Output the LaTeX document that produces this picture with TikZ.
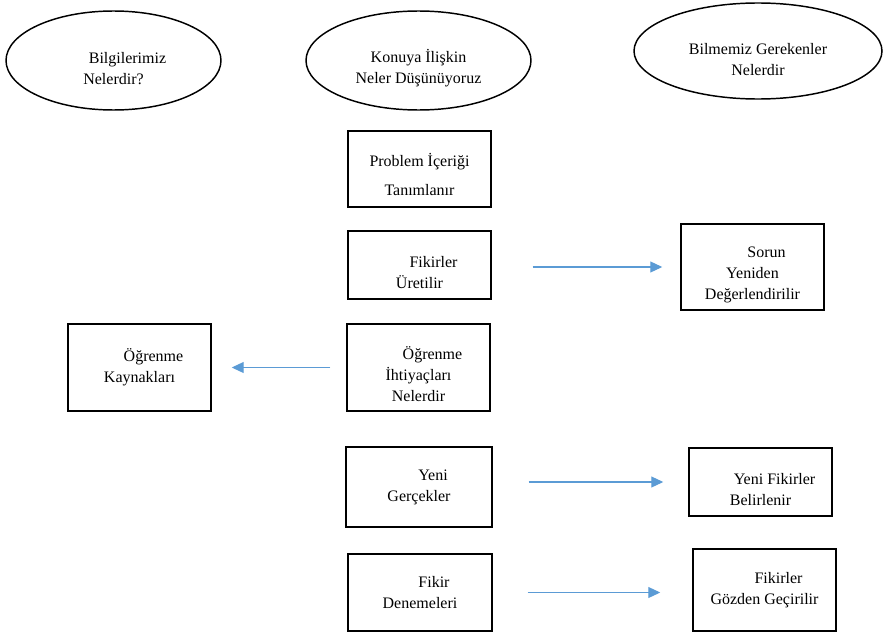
\documentclass[tikz,border=0pt]{standalone}
\usepackage{fontspec}
\setmainfont{Liberation Serif}
\usetikzlibrary{shapes.geometric,arrows.meta}
\definecolor{arrowblue}{HTML}{5B9BD5}
\newcommand{\pxunit}{0.75pt}
\newcommand{\ind}{\hspace*{21pt}}
\newcommand{\topgap}[1]{\rule{0pt}{#1}}
\tikzstyle{oval}=[ellipse,draw=black,line width=1.1pt,inner sep=0pt,align=center,font=\fontsize{12}{15.75}\selectfont]
\tikzstyle{box}=[rectangle,draw=black,line width=1.1pt,inner sep=0pt,align=center,minimum width=143*\pxunit,font=\fontsize{12}{15.75}\selectfont]
\tikzstyle{flow}=[draw=arrowblue,line width=0.8pt,-{Triangle[length=9pt,width=8.25pt]}]

\begin{document}
\begin{tikzpicture}[x=\pxunit,y=-\pxunit]
    \useasboundingbox (0,0) rectangle (884,635);
%   top row
    \node[oval,minimum width=215*\pxunit,minimum height=99*\pxunit] (know) at (113.5,60.5) {\topgap{20pt}\ind Bilgilerimiz\\Nelerdir?};
    \node[oval,minimum width=225*\pxunit,minimum height=99*\pxunit] (think) at (418.5,60.5) {\topgap{21pt}Konuya İlişkin\\Neler Düşünüyoruz};
    \node[oval,minimum width=248*\pxunit,minimum height=96*\pxunit] (need) at (758,51) {\topgap{21pt}Bilmemiz Gerekenler\\Nelerdir};
%   middle column
    \node[box,minimum height=76*\pxunit] (b1) at (419.5,169) {\topgap{18pt}Problem İçeriği\\[5.5pt]Tanımlanır};
    \node[box,minimum height=68*\pxunit] (b2) at (419.5,265) {\topgap{19.5pt}\ind Fikirler\\Üretilir};
    \node[box,minimum height=87*\pxunit] (b5) at (418.5,367.5) {\topgap{19pt}\ind Öğrenme\\İhtiyaçları\\Nelerdir};
    \node[box,minimum width=146*\pxunit,minimum height=80*\pxunit] (b6) at (419,487) {\ind Yeni\\Gerçekler};
    \node[box,minimum width=144*\pxunit,minimum height=77*\pxunit] (b8) at (420,592.5) {\ind Fikir\\Denemeleri};
%   side boxes
    \node[box,minimum height=86*\pxunit] (b3) at (752.5,267) {\topgap{20pt}\ind Sorun\\Yeniden\\Değerlendirilir};
    \node[box,minimum height=87*\pxunit] (b4) at (139.5,367.5) {\ind Öğrenme\\Kaynakları};
    \node[box,minimum height=68*\pxunit] (b7) at (760.5,482) {\topgap{19pt}\ind Yeni Fikirler\\Belirlenir};
    \node[box,minimum height=82*\pxunit] (b9) at (764.5,590) {\ind Fikirler\\Gözden Geçirilir};
%   arrows
    \draw[flow,shorten <=30.75pt,shorten >=13.5pt] (b2.east |- b3.west) -- (b3.west);
    \draw[flow,shorten <=12pt,shorten >=15pt] (b5.west) -- (b4.east);
    \draw[flow,shorten <=27pt,shorten >=18.75pt] (b6.east |- b7.west) -- (b7.west);
    \draw[flow,shorten <=26.25pt,shorten >=24pt] (b8.east) -- (b8.east -| b9.west);
\end{tikzpicture}
\end{document}
